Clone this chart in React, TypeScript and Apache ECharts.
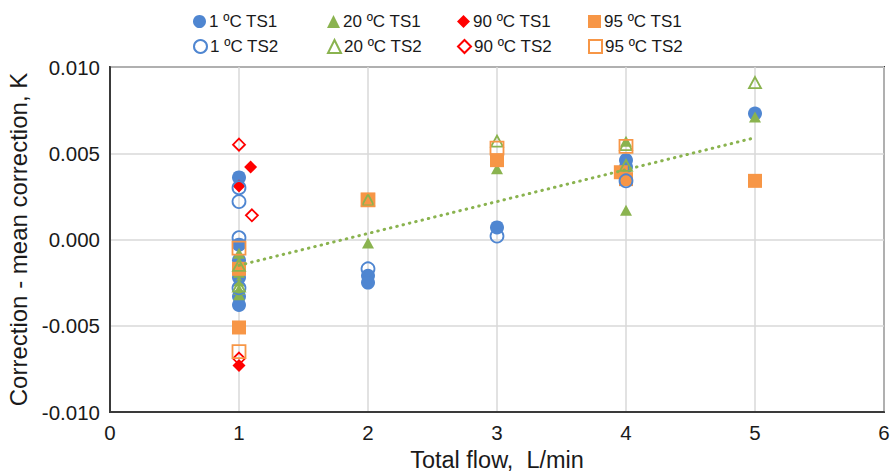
import React, { useEffect, useRef } from "react";
import * as echarts from "echarts";

const xTicks = [0, 1, 2, 3, 4, 5, 6];
const yTicks = [-0.01, -0.005, 0, 0.005, 0.01];

const seriesNames = [
  "1 ºC TS1",
  "20 ºC TS1",
  "90 ºC TS1",
  "95 ºC TS1",
  "1 ºC TS2",
  "20 ºC TS2",
  "90 ºC TS2",
  "95 ºC TS2",
];

const oneTS1: number[][] = [
  [1, 0.0036], [1, -0.0003], [1, -0.0012], [1, -0.0022], [1, -0.0033], [1, -0.0038],
  [2, -0.0021], [2, -0.0025], [3, 0.0007], [4, 0.0046], [4, 0.0042], [5, 0.0073],
];
const twentyTS1: number[][] = [
  [1, -0.0008], [1, -0.0013], [1, -0.0019], [1, -0.0024], [1, -0.0029], [1, -0.0032],
  [2, -0.0002], [3, 0.0041], [4, 0.0057], [4, 0.0017], [5, 0.0071],
];
const ninetyTS1: number[][] = [[1, 0.0031], [1.09, 0.0042], [1, -0.0073]];
const ninetyFiveTS1: number[][] = [
  [1, -0.0017], [1, -0.0051], [2, 0.0023], [3, 0.0046], [3.96, 0.0039], [4, 0.0035], [5, 0.0034],
];
const oneTS2: number[][] = [
  [1, 0.003], [1, 0.0022], [1, 0.0001], [1, -0.0028], [2, -0.0017], [3, 0.0002], [4, 0.0034],
];
const twentyTS2: number[][] = [
  [1, -0.0015], [1, -0.0027], [2, 0.0023], [3, 0.0057], [4, 0.0055], [4, 0.0043], [5, 0.0091],
];
const ninetyTS2: number[][] = [[1, 0.0055], [1.1, 0.0014], [1, -0.0069]];
const ninetyFiveTS2: number[][] = [[1, -0.0005], [1, -0.0065], [2, 0.0023], [3, 0.0053], [4, 0.0054]];

const trendX = [1, 5];
const trendY = [-0.0015, 0.0059];

const BLUE = "#4F86D1";
const GREEN = "#8AB34F";
const RED = "#FF0000";
const ORANGE = "#F79646";
const FONT = "'Liberation Sans', Arial, sans-serif";

export default function App() {
  const ref = useRef<HTMLDivElement>(null);
  useEffect(() => {
    document.body.style.margin = "0";
    if (!ref.current) return;
    const chart = echarts.init(ref.current, undefined, { renderer: "svg" });

    const datasets = [oneTS1, twentyTS1, ninetyTS1, ninetyFiveTS1, oneTS2, twentyTS2, ninetyTS2, ninetyFiveTS2];
    const colors = [BLUE, GREEN, RED, ORANGE, BLUE, GREEN, RED, ORANGE];
    const symbols = ["circle", "triangle", "diamond", "rect", "circle", "triangle", "diamond", "rect"];
    const sizes = [14, 12, 13, 14, 13, 12, 12, 13];

    const scatter = seriesNames.map((name, i) => {
      const open = i >= 4;
      return {
        name,
        type: "scatter",
        data: datasets[i],
        symbol: symbols[i],
        symbolSize: symbols[i] === "triangle" ? [sizes[i], sizes[i] - 1] : sizes[i],
        itemStyle: open
          ? { color: "transparent", borderColor: colors[i], borderWidth: 1.8, opacity: 1 }
          : { color: colors[i], borderWidth: 0, opacity: 1 },
        emphasis: { disabled: true },
        z: 2 + i * 0.01,
      };
    });

    const legendLeft = [193, 327, 457, 588];
    const legendTop = [13, 38];
    const legends = seriesNames.map((name, i) => ({
      data: [name],
      left: legendLeft[i % 4],
      top: legendTop[Math.floor(i / 4)],
      padding: 0,
      itemWidth: 13,
      itemHeight: 13,
      textStyle: { fontFamily: FONT, fontSize: 17, color: "#1a1a1a", padding: [0, 0, 0, -2] },
      selectedMode: false,
    }));

    chart.setOption({
      animation: false,
      backgroundColor: "#fff",
      legend: legends,
      grid: {
        left: 110,
        right: 9,
        top: 67,
        bottom: 62,
        show: true,
        borderColor: "#3a3a3a",
        borderWidth: 2,
        backgroundColor: "transparent",
        outerBoundsMode: "none",
        containLabel: false,
      },
      xAxis: {
        type: "value",
        min: xTicks[0],
        max: xTicks[xTicks.length - 1],
        interval: 1,
        name: "Total flow,  L/min",
        nameLocation: "middle",
        nameGap: 36,
        nameTextStyle: { fontFamily: FONT, fontSize: 23.5, color: "#1a1a1a" },
        axisLine: { show: true, onZero: false, lineStyle: { color: "#3a3a3a", width: 2 } },
        axisTick: { show: false },
        axisLabel: { fontFamily: FONT, fontSize: 20.5, color: "#1a1a1a", margin: 10 },
        splitLine: { show: true, lineStyle: { color: "#d9d9d9", width: 1.5 } },
      },
      yAxis: {
        type: "value",
        min: yTicks[0],
        max: yTicks[yTicks.length - 1],
        interval: 0.005,
        name: "Correction - mean correction, K",
        nameLocation: "middle",
        nameGap: 76,
        nameTextStyle: { fontFamily: FONT, fontSize: 24, color: "#1a1a1a" },
        axisLine: { show: true, onZero: false, lineStyle: { color: "#3a3a3a", width: 2 } },
        axisTick: { show: false },
        axisLabel: {
          fontFamily: FONT,
          fontSize: 20.5,
          color: "#1a1a1a",
          margin: 10,
          formatter: (v: number) => (Math.abs(v) < 1e-9 ? "0.000" : v.toFixed(3)),
        },
        splitLine: { show: true, lineStyle: { color: "#d9d9d9", width: 1.5 } },
      },
      series: [
        ...scatter,
        {
          name: "trend",
          type: "line",
          data: trendX.map((x, i) => [x, trendY[i]]),
          showSymbol: false,
          symbol: "none",
          lineStyle: { color: GREEN, width: 3, type: [0.5, 6], cap: "round" },
          emphasis: { disabled: true },
          z: 3,
        },
      ],
    });
    return () => chart.dispose();
  }, []);
  return <div ref={ref} style={{ width: 893, height: 474 }} />;
}
